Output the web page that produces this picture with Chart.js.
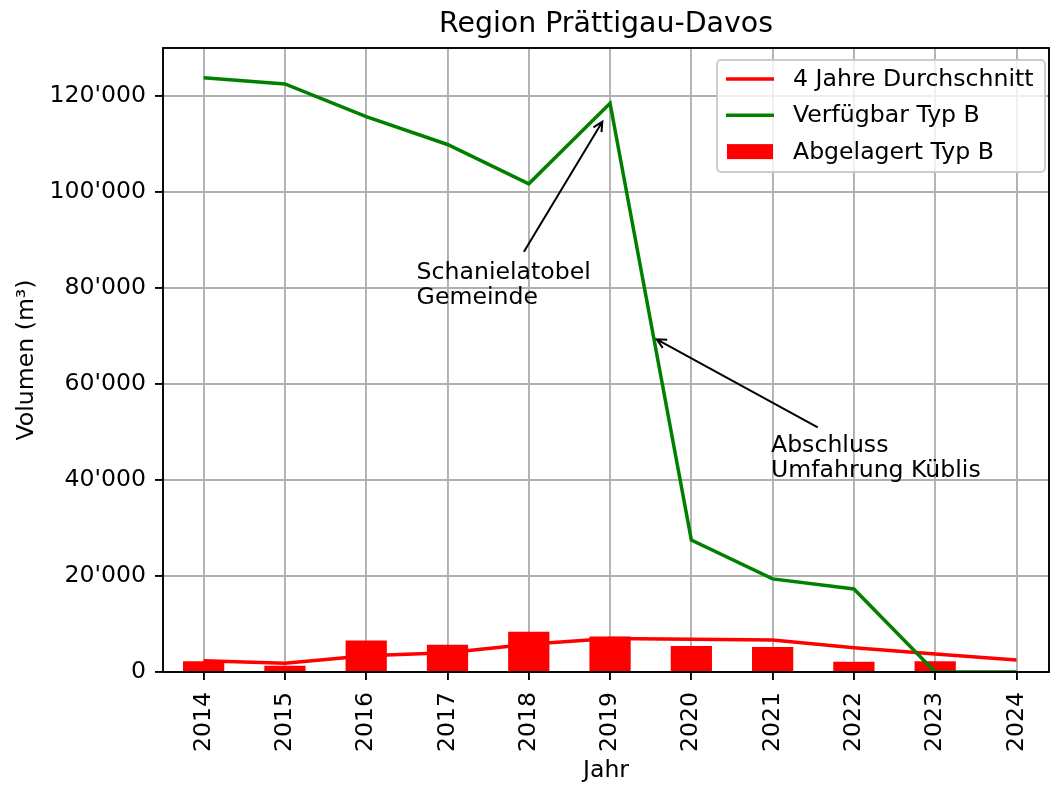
<!DOCTYPE html>
<html>
<head>
<meta charset="utf-8">
<script src="https://cdn.jsdelivr.net/npm/chart.js@4"></script>
<style>
  body { margin: 0; background: #fff; }
  #wrap { width: 1050px; height: 785px; }
</style>
</head>
<body>
<div id="wrap"><canvas id="chart" width="1050" height="785"></canvas></div>
<script>
// values
const years = [2014, 2015, 2016, 2017, 2018, 2019, 2020, 2021, 2022, 2023, 2024];
const abgelagert = [2150, 1250, 6500, 5600, 8300, 7350, 5350, 5150, 2080, 2150];
const durchschnitt = [2350, 1800, 3400, 4000, 5800, 7000, 6800, 6650, 5050, 3750, 2500];
const verfuegbar = [123800, 122500, 115700, 109900, 101700, 118500, 27500, 19400, 17300, 0, 0];
const yTicks = [0, 20000, 40000, 60000, 80000, 100000, 120000];
const titleText = "Region Prättigau-Davos";

// annotations: text anchor (first baseline), arrow tail and tip in data units
const notes = [
    { lines: ["Schanielatobel", "Gemeinde"], text: [2016.62, 81900], from: [2017.94, 87560], to: [2018.905, 114650] },
    { lines: ["Abschluss", "Umfahrung Küblis"], text: [2020.98, 45900], from: [2021.555, 50980], to: [2019.574, 69310] },
];

const FONT = "'DejaVu Sans', 'Liberation Sans', sans-serif";
const FS = 23.6;

Chart.defaults.font.family = FONT;
Chart.defaults.font.size = FS;
Chart.defaults.color = "#000";

const fmt = (v) => String(v).replace(/\B(?=(\d{3})+(?!\d))/g, "'");

const framePlugin = {
    id: "frame",
    afterDatasetsDraw(chart) {
        const { ctx, chartArea: a, scales: { x, y } } = chart;
        ctx.save();
        ctx.strokeStyle = "#000";
        ctx.lineWidth = 1.9;
        ctx.strokeRect(a.left, a.top, a.right - a.left, a.bottom - a.top);

        // annotations
        ctx.lineWidth = 2;
        ctx.fillStyle = "#000";
        ctx.font = `${FS}px ${FONT}`;
        ctx.textBaseline = "alphabetic";
        ctx.textAlign = "left";
        notes.forEach((n) => {
            const tx = x.getPixelForValue(n.text[0]);
            const ty = y.getPixelForValue(n.text[1]);
            n.lines.forEach((l, i) => ctx.fillText(l, tx, ty + i * 25.5));
            const x1 = x.getPixelForValue(n.from[0]), y1 = y.getPixelForValue(n.from[1]);
            const x2 = x.getPixelForValue(n.to[0]), y2 = y.getPixelForValue(n.to[1]);
            const ang = Math.atan2(y2 - y1, x2 - x1);
            const hl = 9.4, hw = 4.7;
            const ux = Math.cos(ang), uy = Math.sin(ang);
            ctx.beginPath();
            ctx.moveTo(x1, y1);
            ctx.lineTo(x2, y2);
            ctx.moveTo(x2 - hl * ux - hw * uy, y2 - hl * uy + hw * ux);
            ctx.lineTo(x2, y2);
            ctx.lineTo(x2 - hl * ux + hw * uy, y2 - hl * uy - hw * ux);
            ctx.stroke();
        });
        ctx.restore();
    },
    afterDraw(chart) {
        const { ctx, chartArea: a } = chart;
        ctx.save();
        // title centred over the plot area
        ctx.font = `28.4px ${FONT}`;
        ctx.fillStyle = "#000";
        ctx.textAlign = "center";
        ctx.textBaseline = "alphabetic";
        ctx.fillText(titleText, (a.left + a.right) / 2, 32);

        // legend box in the upper right corner, matplotlib style
        const items = chart.data.datasets;
        const w = 328, h = 112;
        const bx = a.right - 4 - w, by = a.top + 12;
        ctx.beginPath();
        ctx.roundRect(bx, by, w, h, 4);
        ctx.fillStyle = "rgba(255,255,255,0.8)";
        ctx.fill();
        ctx.strokeStyle = "#cccccc";
        ctx.lineWidth = 1.9;
        ctx.stroke();
        ctx.font = `${FS}px ${FONT}`;
        ctx.textAlign = "left";
        ctx.textBaseline = "middle";
        items.forEach((ds, i) => {
            const cy = by + 19 + i * 36.3;
            if (ds.type === "bar") {
                ctx.fillStyle = ds.backgroundColor;
                ctx.fillRect(bx + 10, cy - 7.5, 46, 15);
            } else {
                ctx.strokeStyle = ds.borderColor;
                ctx.lineWidth = 3.5;
                ctx.beginPath();
                ctx.moveTo(bx + 9, cy);
                ctx.lineTo(bx + 57, cy);
                ctx.stroke();
            }
            ctx.fillStyle = "#000";
            ctx.fillText(ds.label, bx + 76, cy + 1);
        });
        ctx.restore();
    },
};

new Chart(document.getElementById("chart"), {
    data: {
        datasets: [
            {
                type: "line",
                label: "4 Jahre Durchschnitt",
                data: years.map((yr, i) => ({ x: yr, y: durchschnitt[i] })),
                borderColor: "#ff0000",
                borderWidth: 3.5,
                pointRadius: 0,
                tension: 0,
                order: 2,
            },
            {
                type: "line",
                label: "Verfügbar Typ B",
                data: years.map((yr, i) => ({ x: yr, y: verfuegbar[i] })),
                borderColor: "#008000",
                borderWidth: 3.5,
                pointRadius: 0,
                tension: 0,
                order: 1,
            },
            {
                type: "bar",
                label: "Abgelagert Typ B",
                data: abgelagert.map((v, i) => ({ x: years[i], y: v })),
                backgroundColor: "#ff0000",
                barThickness: 40.6,
                order: 3,
            },
        ],
    },
    options: {
        responsive: false,
        animation: false,
        layout: { padding: { top: 48, right: 1, left: 0, bottom: 0 } },
        plugins: {
            legend: { display: false },
            tooltip: { enabled: false },
            title: { display: false },
        },
        scales: {
            x: {
                type: "linear",
                min: 2013.5,
                max: 2024.4,
                offset: false,
                afterBuildTicks: (s) => { s.ticks = years.map((v) => ({ value: v })); },
                afterFit: (s) => { s.height = 113; s.paddingLeft = 0; s.paddingRight = 0; },
                ticks: {
                    minRotation: 90,
                    maxRotation: 90,
                    padding: 12,
                    callback: (v) => String(v),
                },
                grid: { offset: false, color: "#b0b0b0", lineWidth: 1.9, tickColor: "#000", tickLength: 8, tickWidth: 1.9 },
                border: { display: false },
                title: { display: true, text: "Jahr", padding: { top: 0, bottom: 0 } },
            },
            y: {
                min: 0,
                max: 130000,
                afterBuildTicks: (s) => { s.ticks = yTicks.map((v) => ({ value: v })); },
                afterFit: (s) => { s.width = 163; },
                ticks: { padding: 9, callback: (v) => fmt(v) },
                grid: { color: "#b0b0b0", lineWidth: 1.9, tickColor: "#000", tickLength: 8, tickWidth: 1.9 },
                border: { display: false },
                title: { display: true, text: "Volumen (m³)", padding: { top: 13, bottom: 0 } },
            },
        },
    },
    plugins: [framePlugin],
});
</script>
</body>
</html>
